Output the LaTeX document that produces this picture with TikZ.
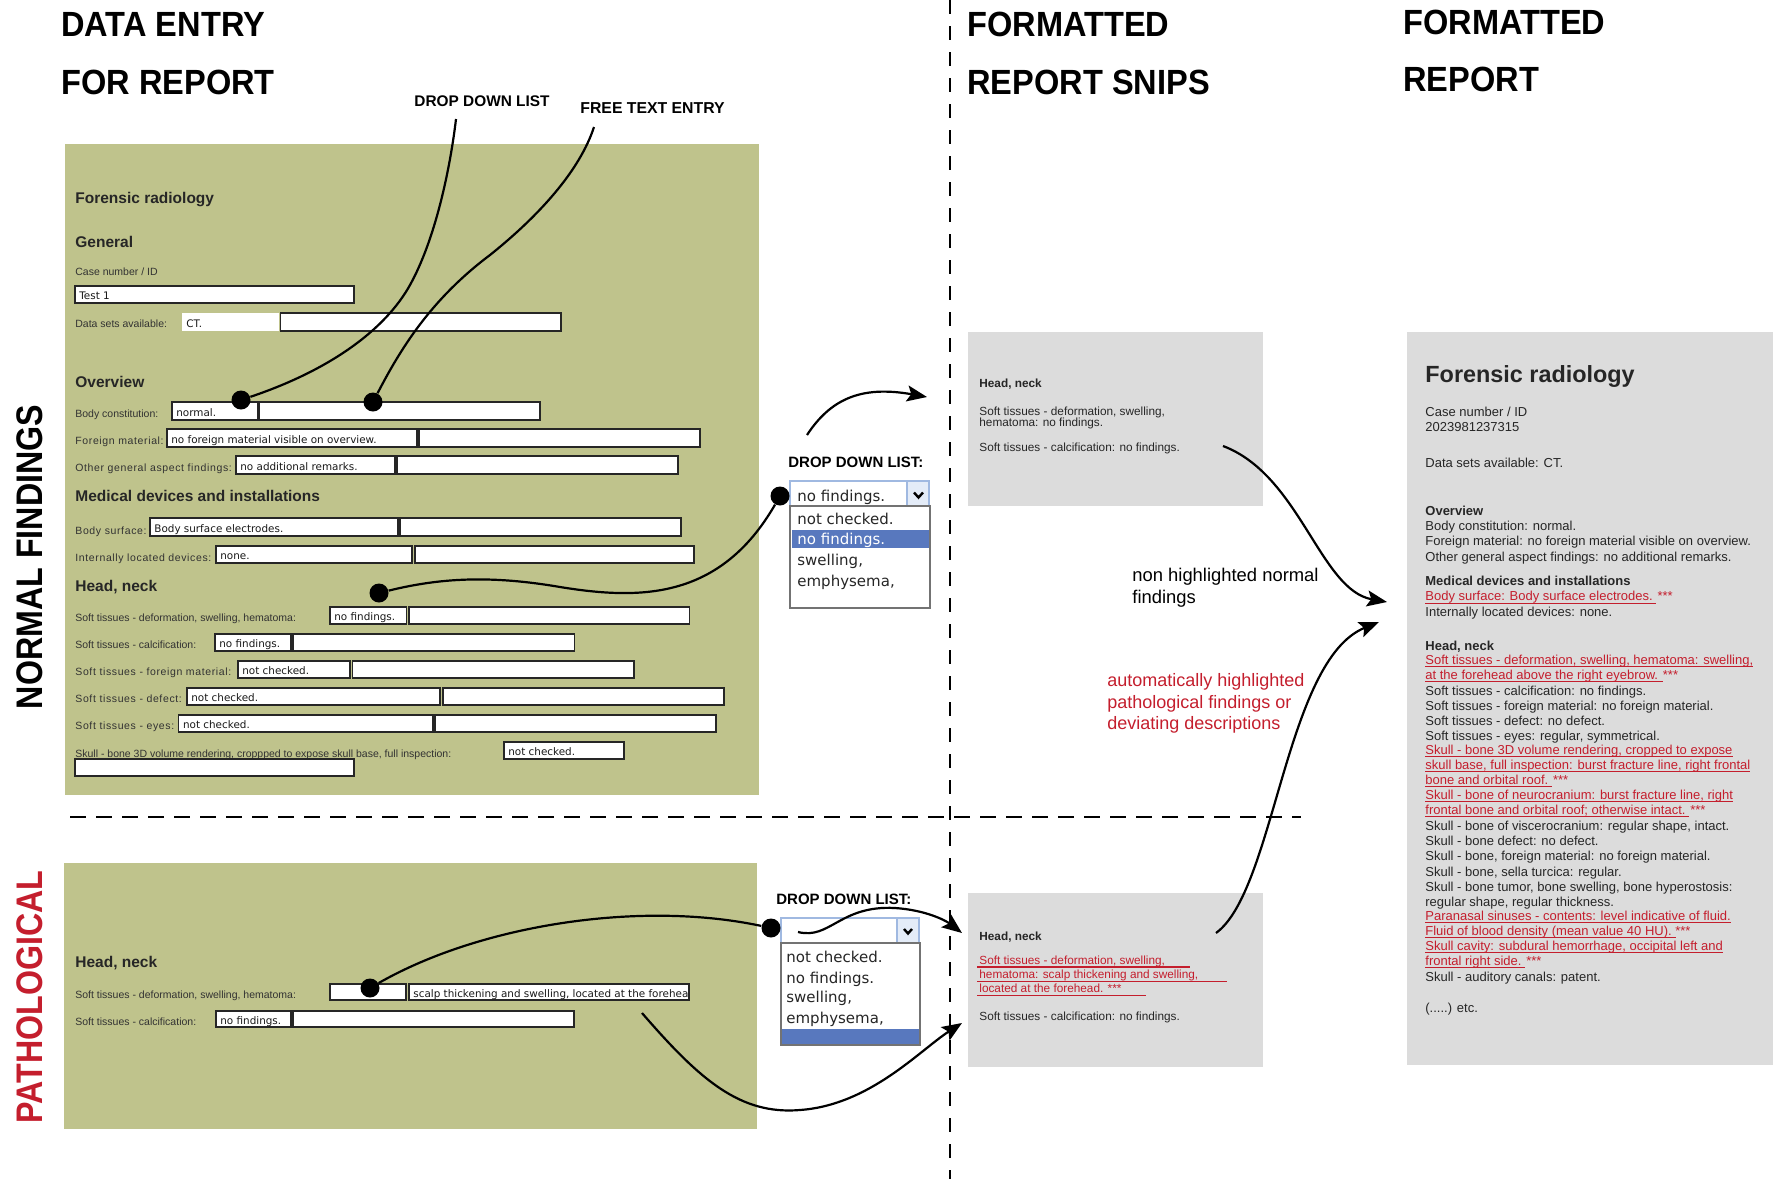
\documentclass[tikz,border=0pt]{standalone}
\usepackage{fontspec}
\setmainfont{Liberation Sans}
\newfontfamily\headfont[FakeStretch=0.93]{Liberation Sans}
\newfontfamily\sidefont[FakeStretch=0.87]{Liberation Sans}
\newfontfamily\spacedfont[LetterSpace=6]{Liberation Sans}
\newfontfamily\uifont{DejaVu Sans}
\usetikzlibrary{arrows.meta}

\definecolor{formgreen}{RGB}{191,195,140}
\definecolor{snipgray}{RGB}{220,220,220}
\definecolor{hilite}{RGB}{196,30,45}
\definecolor{selblue}{RGB}{88,120,190}
\definecolor{selborder}{RGB}{160,185,225}
\definecolor{btnfill}{RGB}{228,236,248}
\definecolor{labelgray}{RGB}{50,50,50}

\newcommand\fsz[2]{\fontsize{#1}{#2}\selectfont}
% white input field with a dark frame and its content
\newcommand\formfield[6]{%
  \path[fieldbox] (#2,#4) rectangle (#3,#5);
  \node[fieldtext] (#1) at ({#2+4},{(#4+#5)/2}) {#6};}
% red underline of a highlighted report line
\newcommand\redrule[3]{\draw[hilite, line width=0.6pt] (#1,#2) -- (#3,#2);}

\begin{document}
\begin{tikzpicture}[x=0.5pt, y=-0.5pt,
  heading/.style={anchor=base west, inner sep=0, font=\headfont\bfseries\fsz{17.5}{20}},
  sidelabel/.style={rotate=90, inner sep=0, font=\sidefont\bfseries\fsz{18.5}{20}},
  annot/.style={anchor=base west, inner sep=0, font=\bfseries\fsz{7.7}{9}},
  panel/.style={fill=formgreen, draw=none},
  fieldbox/.style={fill=white, draw=black!85, line width=0.7pt},
  fieldtext/.style={anchor=mid west, inner sep=0, font=\uifont\fsz{5.2}{6}, text=black!90},
  formlabel/.style={anchor=mid west, inner sep=0, font=\fsz{5.25}{6}, text=labelgray},
  spacedlabel/.style={formlabel, font=\spacedfont\fsz{5.25}{6}},
  formhead/.style={anchor=mid west, inner sep=0, font=\bfseries\fsz{7.75}{9}, text=black!85},
  dot/.style={circle, fill=black, inner sep=0, minimum size=9.5pt},
  link/.style={line width=1.1pt, black},
  arrowlink/.style={link, -{Stealth[length=10pt,width=8pt,inset=2pt]}},
  snipbox/.style={fill=snipgray, draw=none},
  sniptext/.style={anchor=mid west, inner sep=0, font=\fsz{5.9}{6}, text=black!85},
  snipred/.style={sniptext, text=hilite},
  reptext/.style={anchor=mid west, inner sep=0, font=\fsz{6.5}{7.65}, text=black!85},
  repred/.style={reptext, text=hilite},
  ddtext/.style={anchor=mid west, inner sep=0, font=\uifont\fsz{7.5}{9}, text=black!85},
  selframe/.style={fill=white, draw=selborder, line width=0.6pt},
  listframe/.style={fill=white, draw=black!55, line width=0.6pt}]

\useasboundingbox (0,0) rectangle (1779,1179);

% ---------- column headings ----------
\node[heading] (hDataEntry) at (61,36) {DATA ENTRY};
\node[heading] (hForReport) at (61,94) {FOR REPORT};
\node[heading] (hFormatted) at (967,36) {FORMATTED};
\node[heading] (hSnips) at (967,94) {REPORT SNIPS};
\node[heading] (hFormattedB) at (1403,34) {FORMATTED};
\node[heading] (hReport) at (1403,91) {REPORT};

% ---------- row labels ----------
\node[sidelabel] (sNormal) at (29.5,557) {NORMAL FINDINGS};
\node[sidelabel, text=hilite] (sPatho) at (29.5,997) {PATHOLOGICAL};

% ---------- dividers ----------
\draw[line width=1pt, dash pattern=on 7pt off 6pt] (950,0) -- (950,1179);
\draw[line width=1pt, dash pattern=on 8pt off 5pt] (70,817) -- (1301,817);

% ---------- data entry form: normal findings ----------
\path[panel] (64.5,144) rectangle (759,795);
\node[formhead] (fTitle) at (75,198) {Forensic radiology};
\node[formhead] (fGeneral) at (75,242) {General};
\node[formlabel] (lCase) at (75,270) {Case number / ID};
\formfield{vCase}{75}{354}{286}{303}{Test 1}
\node[formlabel] (lData) at (75,322) {Data sets available:};
\path[fill=white] (182,313) rectangle (279,331);
\node[fieldtext] (vData) at (186,322) {CT.};
\formfield{vDataB}{280.5}{561}{313}{331}{}

\node[formhead] (fOverview) at (75,382) {Overview};
\node[formlabel] (lBody) at (75,412) {Body constitution:};
\formfield{vBody}{172}{257.5}{402}{420}{normal.}
\formfield{vBodyB}{259}{540}{402}{420}{}
\node[spacedlabel] (lForeign) at (75,439) {Foreign material:};
\formfield{vForeign}{167}{417}{429}{447}{no foreign material visible on overview.}
\formfield{vForeignB}{419}{700}{429}{447}{}
\node[spacedlabel] (lOther) at (75,466.7) {Other general aspect findings:};
\formfield{vOther}{236}{395}{456}{474}{no additional remarks.}
\formfield{vOtherB}{397}{678}{456}{474}{}

\node[formhead] (fDevices) at (75,496.7) {Medical devices and installations};
\node[spacedlabel] (lSurface) at (75,529) {Body surface:};
\formfield{vSurface}{150}{398}{518}{536}{Body surface electrodes.}
\formfield{vSurfaceB}{400}{681}{518}{536}{}
\node[spacedlabel] (lInternal) at (75,556.7) {Internally located devices:};
\formfield{vInternal}{216}{412}{546}{563}{none.}
\formfield{vInternalB}{415}{694}{546}{563}{}

\node[formhead] (fHead) at (75,586) {Head, neck};
\node[formlabel] (lDeform) at (75,616.7) {Soft tissues - deformation, swelling, hematoma:};
\formfield{vDeform}{330}{406.5}{607}{624}{no findings.}
\formfield{vDeformB}{409}{689.5}{607}{624}{}
\node[formlabel] (lCalc) at (75,643) {Soft tissues - calcification:};
\formfield{vCalc}{215}{291}{634}{651}{no findings.}
\formfield{vCalcB}{293}{574.5}{634}{651}{}
\node[spacedlabel] (lFmat) at (75,670.7) {Soft tissues - foreign material:};
\formfield{vFmat}{238}{350}{661}{678}{not checked.}
\formfield{vFmatB}{352.5}{634}{661}{678}{}
\node[spacedlabel] (lDefect) at (75,697) {Soft tissues - defect:};
\formfield{vDefect}{187}{440}{688}{705}{not checked.}
\formfield{vDefectB}{443}{724}{688}{705}{}
\node[spacedlabel] (lEyes) at (75,724.7) {Soft tissues - eyes:};
\formfield{vEyes}{178.7}{433}{715}{732}{not checked.}
\formfield{vEyesB}{435}{716}{715}{732}{}
\node[formlabel] (lSkull) at (75,752) {Skull - bone 3D volume rendering, croppped to expose skull base, full inspection:};
\formfield{vSkull}{504}{624}{742}{759}{not checked.}
\formfield{vSkullB}{75}{354}{759}{776}{}

% ---------- data entry form: pathological case ----------
\path[panel] (64,863) rectangle (757,1129);
\node[formhead] (pHead) at (75,962) {Head, neck};
\node[formlabel] (pDeform) at (75,993) {Soft tissues - deformation, swelling, hematoma:};
\formfield{qDeform}{330}{406}{984}{1000}{}
\formfield{qDeformB}{409}{689}{984}{1000}{scalp thickening and swelling, located at the forehea}
\node[formlabel] (pCalc) at (75,1020) {Soft tissues - calcification:};
\formfield{qCalc}{216}{291}{1011}{1027}{no findings.}
\formfield{qCalcB}{293}{574}{1011}{1027}{}

% ---------- drop down list, normal case ----------
\node[annot, font=\bfseries\fsz{7.5}{9}] (ddLabA) at (788,467) {DROP DOWN LIST:};
\path[selframe] (790,481) rectangle (929,506);
\path[fill=btnfill, draw=selborder, line width=0.6pt] (907,481) rectangle (929,506);
\draw[line width=1.2pt] (914,492.5) -- (918.5,497.5) -- (923,492.5);
\node[ddtext] (ddValA) at (797,496) {no findings.};
\path[listframe] (790,506) rectangle (930,608);
\fill[selblue] (792,530) rectangle (929,548);
\node[ddtext] (ddA1) at (797,519) {not checked.};
\node[ddtext, text=white] (ddA2) at (797,539.5) {no findings.};
\node[ddtext] (ddA3) at (797,560.5) {swelling,};
\node[ddtext] (ddA4) at (797,581.5) {emphysema,};

% ---------- drop down list, pathological case ----------
\node[annot, font=\bfseries\fsz{7.5}{9}] (ddLabB) at (776,904) {DROP DOWN LIST:};
\path[selframe] (781,918) rectangle (919,943);
\path[fill=btnfill, draw=selborder, line width=0.6pt] (897,918) rectangle (919,943);
\draw[line width=1.2pt] (904,929) -- (908,933.5) -- (912,929);
\path[listframe] (781,943) rectangle (920,1045);
\fill[selblue] (782,1029) rectangle (919,1044);
\node[ddtext] (ddB1) at (786,957) {not checked.};
\node[ddtext] (ddB2) at (786,978) {no findings.};
\node[ddtext] (ddB3) at (786,997.5) {swelling,};
\node[ddtext] (ddB4) at (786,1018.5) {emphysema,};

% ---------- formatted report snips ----------
\path[snipbox] (968,332) rectangle (1263,506);
\node[sniptext, font=\bfseries\fsz{5.9}{6}] (sAhead) at (979,382) {Head, neck};
\node[sniptext] (sA1) at (979,410) {Soft tissues - deformation, swelling,};
\node[sniptext] (sA2) at (979,421) {hematoma: no findings.};
\node[sniptext] (sA3) at (979,446.7) {Soft tissues - calcification: no findings.};

\path[snipbox] (968,893) rectangle (1263,1067);
\node[sniptext, font=\bfseries\fsz{5.9}{6}] (sBhead) at (979,935) {Head, neck};
\node[snipred] (sB1) at (979,959) {Soft tissues - deformation, swelling,};
\node[snipred] (sB2) at (979,973.3) {hematoma: scalp thickening and swelling,};
\node[snipred] (sB3) at (979,987.3) {located at the forehead. ***};
\redrule{977}{967}{1190}
\redrule{977}{981.5}{1227}
\redrule{977}{995.7}{1146}
\node[sniptext] (sB4) at (979,1015) {Soft tissues - calcification: no findings.};

% ---------- notes between the columns ----------
\node[anchor=north west, inner sep=0, align=left, font=\fsz{9.2}{11}] (noteNormal) at (1132,568)
  {non highlighted normal\\findings};
\node[anchor=north west, inner sep=0, align=left, font=\fsz{9}{10.75}, text=hilite] (noteAuto) at (1107,673.5)
  {automatically highlighted\\pathological findings or\\deviating descriptions};

% ---------- formatted report ----------
\path[snipbox] (1407,332) rectangle (1773,1065);
\node[reptext, font=\bfseries\fsz{11.7}{14}] (rTitle) at (1425,377) {Forensic radiology};
\node[reptext] (r01) at (1425,411) {Case number / ID};
\node[reptext] (r02) at (1425,426.7) {2023981237315};
\node[reptext] (r03) at (1425,462.7) {Data sets available: CT.};
\node[reptext, font=\bfseries\fsz{6.5}{7.65}] (r04) at (1425,510) {Overview};
\node[reptext] (r05) at (1425,525) {Body constitution: normal.};
\node[reptext] (r06) at (1425,540.7) {Foreign material: no foreign material visible on overview.};
\node[reptext] (r07) at (1425,556) {Other general aspect findings: no additional remarks.};
\node[reptext, font=\bfseries\fsz{6.5}{7.65}] (r08) at (1425,580.7) {Medical devices and installations};
\node[repred] (r09) at (1425,595.7) {Body surface: Body surface electrodes. ***};
\node[reptext] (r10) at (1425,611.7) {Internally located devices: none.};
\node[reptext, font=\bfseries\fsz{6.5}{7.65}] (r11) at (1425,645) {Head, neck};
\node[repred] (r12) at (1425,659) {Soft tissues - deformation, swelling, hematoma: swelling,};
\node[repred] (r13) at (1425,674) {at the forehead above the right eyebrow. ***};
\node[reptext] (r14) at (1425,690) {Soft tissues - calcification: no findings.};
\node[reptext] (r15) at (1425,705) {Soft tissues - foreign material: no foreign material.};
\node[reptext] (r16) at (1425,720) {Soft tissues - defect: no defect.};
\node[reptext] (r17) at (1425,735) {Soft tissues - eyes: regular, symmetrical.};
\node[repred] (r18) at (1425,749) {Skull - bone 3D volume rendering, cropped to expose};
\node[repred] (r19) at (1425,764) {skull base, full inspection: burst fracture line, right frontal};
\node[repred] (r20) at (1425,779) {bone and orbital roof. ***};
\node[repred] (r21) at (1425,794) {Skull - bone of neurocranium: burst fracture line, right};
\node[repred] (r22) at (1425,809) {frontal bone and orbital roof; otherwise intact. ***};
\node[reptext] (r23) at (1425,825) {Skull - bone of viscerocranium: regular shape, intact.};
\node[reptext] (r24) at (1425,840) {Skull - bone defect: no defect.};
\node[reptext] (r25) at (1425,855) {Skull - bone, foreign material: no foreign material.};
\node[reptext] (r26) at (1425,871) {Skull - bone, sella turcica: regular.};
\node[reptext] (r27) at (1425,886) {Skull - bone tumor, bone swelling, bone hyperostosis:};
\node[reptext] (r28) at (1425,901) {regular shape, regular thickness.};
\node[repred] (r29) at (1425,915) {Paranasal sinuses - contents: level indicative of fluid.};
\node[repred] (r30) at (1425,930) {Fluid of blood density (mean value 40 HU). ***};
\node[repred] (r31) at (1425,945) {Skull cavity: subdural hemorrhage, occipital left and};
\node[repred] (r32) at (1425,960) {frontal right side. ***};
\node[reptext] (r33) at (1425,976) {Skull - auditory canals: patent.};
\node[reptext] (r34) at (1425,1007.7) {(.....) etc.};
\redrule{1425}{603.3}{1656}
\redrule{1425}{666.6}{1753}
\redrule{1425}{681.6}{1663}
\redrule{1425}{756.6}{1733}
\redrule{1425}{771.6}{1750}
\redrule{1425}{786.6}{1552}
\redrule{1425}{801.6}{1733}
\redrule{1425}{816.6}{1689}
\redrule{1425}{922.6}{1731}
\redrule{1425}{937.6}{1676}
\redrule{1425}{952.6}{1723}
\redrule{1425}{967.6}{1525}

% ---------- call-out labels ----------
\node[annot] (aDrop) at (414,106) {DROP DOWN LIST};
\node[annot, font=\bfseries\fsz{7.9}{9}] (aFree) at (580,113) {FREE TEXT ENTRY};

% ---------- pick points ----------
\node[dot] (dA) at (241,400) {};
\node[dot] (dB) at (373,402) {};
\node[dot] (dC) at (379,593) {};
\node[dot] (ddDotA) at (780,496) {};
\node[dot] (dD) at (370,988) {};
\node[dot] (ddDotB) at (771,928) {};

% ---------- connector ends ----------
\coordinate (aDropEnd) at (456,119);
\coordinate (aFreeEnd) at (594,127);
\coordinate (upStart) at (807,435);
\coordinate (upTip) at (927,397);
\coordinate (snipAOut) at (1223,446);
\coordinate (reportInA) at (1387,602);
\coordinate (snipBOut) at (1216,933);
\coordinate (reportInB) at (1379,622);
\coordinate (waveStart) at (798,932);
\coordinate (waveTip) at (962,933);
\coordinate (pathOut) at (642,1013);
\coordinate (pathTip) at (962,1023);

% ---------- connectors ----------
\draw[link] (dA) .. controls (330,370) and (385,330) .. (410,285)
                 .. controls (435,240) and (450,170) .. (aDropEnd);
\draw[link] (dB) .. controls (400,350) and (430,300) .. (490,255)
                 .. controls (540,215) and (580,170) .. (aFreeEnd);
\draw[link] (dC) .. controls (440,578) and (490,575) .. (560,587)
                 .. controls (640,600) and (720,600) .. (ddDotA);
\draw[arrowlink] (upStart) .. controls (830,400) and (860,385) .. (upTip);
\draw[arrowlink] (snipAOut) .. controls (1300,475) and (1320,590) .. (reportInA);
\draw[arrowlink] (snipBOut) .. controls (1275,890) and (1285,660) .. (reportInB);
\draw[link] (dD) .. controls (480,925) and (640,900) .. (ddDotB);
\draw[arrowlink] (waveStart) .. controls (830,940) and (840,905) .. (895,908)
                 .. controls (925,910) and (945,920) .. (waveTip);
\draw[arrowlink] (pathOut) .. controls (700,1080) and (740,1115) .. (800,1110)
                 .. controls (870,1105) and (920,1050) .. (pathTip);
\end{tikzpicture}
\end{document}
